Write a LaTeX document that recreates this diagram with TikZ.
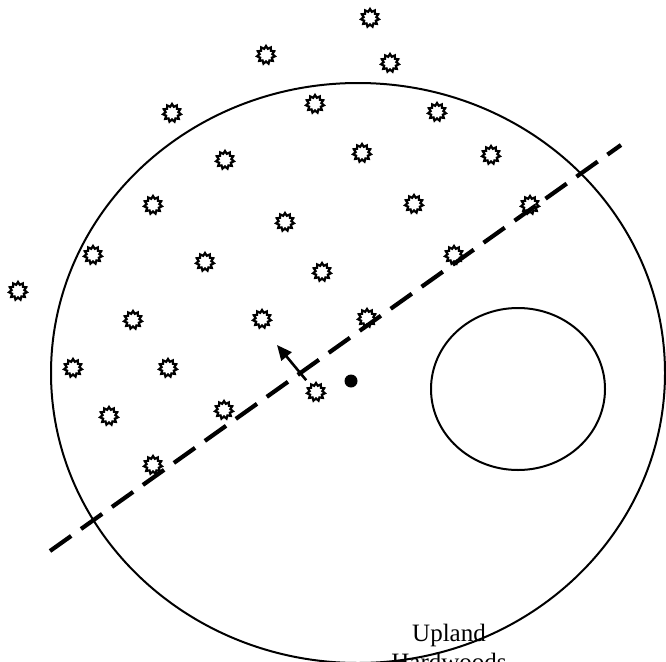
\documentclass[tikz,border=0pt]{standalone}
\usepackage{fontspec}
\setmainfont{Liberation Serif}
\usetikzlibrary{arrows.meta,shapes.geometric}
\tikzset{
  plan/.style={x=1pt, y=-1pt, >={Triangle[length=15pt,width=13pt]}},
  ring/.style={draw, line width=2pt},
  shrub/.style={draw, star, star points=11, star point ratio=1.4, minimum size=18pt, inner sep=0pt, line width=2.2pt},
  cutline/.style={line width=4.2pt, dash pattern=on 26pt off 12pt},
  move/.style={->, line width=2.6pt, shorten <=6pt},
  lab/.style={font=\fontsize{25pt}{29pt}\selectfont, inner sep=0pt, anchor=base}
}

\begin{document}
\begin{tikzpicture}[plan]
\useasboundingbox (0,0) rectangle (666,661);
\clip (0,0) rectangle (666,661);
% stand boundary and the opening
\draw[ring] (358,373) ellipse [x radius=307, y radius=290];
\draw[ring] (518,389) ellipse [x radius=87, y radius=81];
% stems
\foreach \x/\y [count=\i] in {370/18, 266/55, 390/63, 172/113, 315/104, 437/112, 225/160, 362/153,
    491/155, 153/205, 285/222, 414/204, 530/205, 93/255, 205/262, 322/272, 454/255, 18/291,
    133/320, 262/319, 367/318, 73/368, 168/368, 109/416, 224/410, 153/465}
  \node[shrub] (s\i) at (\x,\y) {};
\node[shrub] (mover) at (316,392) {};
\fill (351,381) circle [radius=6.5];
% edge of the stand
\coordinate (e1) at (50,551);
\coordinate (e2) at (621,145);
\draw[cutline] (e1) -- (e2);
\coordinate (tip) at (277,345);
\draw[move] (mover) -- (tip);
\node[lab] (upl) at (449,641) {Upland};
\node[lab] (hwd) at (449,670) {Hardwoods};
\end{tikzpicture}
\end{document}
